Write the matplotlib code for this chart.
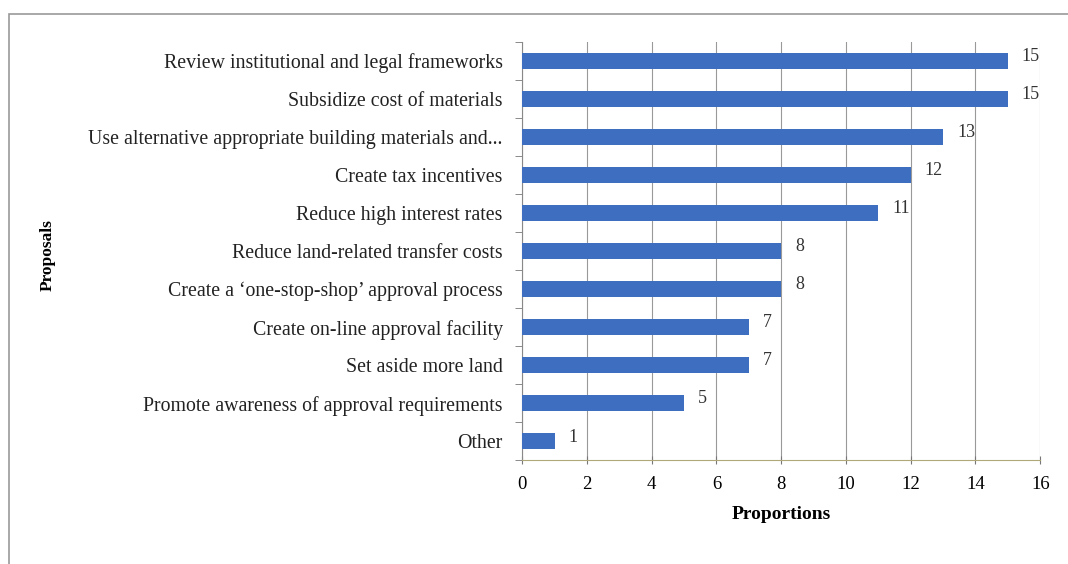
import matplotlib.pyplot as plt
from matplotlib.patches import Rectangle

# Data
proposals = [
    "Review institutional and legal frameworks",
    "Subsidize cost of materials",
    "Use alternative appropriate building materials and...",
    "Create tax incentives",
    "Reduce high interest rates",
    "Reduce land-related transfer costs",
    "Create a \u2018one-stop-shop\u2019 approval process",
    "Create on-line approval facility",
    "Set aside more land",
    "Promote awareness of approval requirements",
    "Other",
]
counts = [15, 15, 13, 12, 11, 8, 8, 7, 7, 5, 1]
xticks = [0, 2, 4, 6, 8, 10, 12, 14, 16]

plt.rcParams['font.family'] = ['Liberation Serif', 'DejaVu Serif']

fig = plt.figure(figsize=(10.68, 5.64), dpi=100)
ax = fig.add_axes([0.489, 0.184, 0.485, 0.742])

ypos = list(range(len(proposals)))
ax.barh(ypos, counts, height=0.42, color='#3E6EC0', zorder=3)

for y, v in zip(ypos, counts):
    ax.annotate(str(v), (v, y), xytext=(10, 3), textcoords='offset points',
                va='center', ha='left', fontsize=13, color='#333333')

ax.set_xlim(0, 16)
ax.set_ylim(len(proposals) - 0.5, -0.5)
ax.set_xticks(xticks)
ax.set_yticks(ypos)
ax.set_yticklabels(proposals, fontsize=14.3, color='#222222')
ax.set_yticks([y + 0.5 for y in range(-1, len(proposals))], minor=True)
ax.tick_params(axis='y', which='major', length=0, pad=14)
ax.tick_params(axis='y', which='minor', length=5, color='#777777', direction='out')
ax.tick_params(axis='x', length=6, color='#777777', direction='inout', labelsize=13.5, pad=8)

ax.grid(axis='x', color='#999999', linewidth=0.8, zorder=0)
for s in ['top', 'right']:
    ax.spines[s].set_visible(False)
ax.spines['left'].set_color('#888888')
ax.spines['bottom'].set_color('#b0a878')

ax.set_xlabel("Proportions", fontsize=14, fontweight='bold', labelpad=10)
fig.text(0.045, 0.548, "Proposals", rotation=90, fontsize=12.5, fontweight='bold',
         ha='center', va='center')

# outer frame
fig.patches.append(Rectangle((0.008, -0.1), 1.1, 1.075, transform=fig.transFigure,
                             fill=False, edgecolor='#999999', linewidth=1.2))

fig.savefig("out.png", dpi=100)
